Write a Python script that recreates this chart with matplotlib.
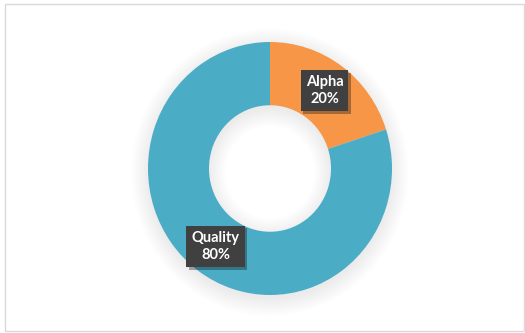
import numpy as np
import matplotlib.pyplot as plt
from matplotlib.patches import Rectangle, Wedge
import matplotlib.patheffects as pe

# data
labels = ["Alpha", "Quality"]
values = [20, 80]
colors = ["#F79646", "#4BACC6"]

W, H = 525, 333
fig = plt.figure(figsize=(W / 100, H / 100), dpi=100)
fig.patch.set_facecolor("white")

# outer chart frame
fig.patches.append(Rectangle((5 / W, 2 / H), 519 / W, 327 / H, transform=fig.transFigure,
                             fill=False, edgecolor="#D9D9D9", linewidth=1.0))

# the ring in the reference is slightly taller than wide
cx, cy, rx, ry, span = 270, 168.5, 122, 126.5, 1.35
ax = fig.add_axes([(cx - rx * span) / W, (H - cy - ry * span) / H,
                   2 * rx * span / W, 2 * ry * span / H])

# soft shadow behind the ring
for i in range(10):
    rr = 1.0 + 0.015 * i
    ax.add_patch(Wedge((0.0, -0.03), rr, 0, 360, width=0.5 + 0.03 * i,
                       facecolor="black", alpha=0.007, edgecolor="none", zorder=0))

wedges, _ = ax.pie(values, colors=colors, startangle=90, counterclock=False,
                   radius=1.0, wedgeprops=dict(width=0.5, edgecolor="none"))
for w in wedges:
    w.set_zorder(2)

ax.set_xlim(-span, span)
ax.set_ylim(-span, span)
ax.set_aspect("auto")
ax.axis("off")

total = sum(values)
for w, lab, v in zip(wedges, labels, values):
    ang = np.deg2rad((w.theta1 + w.theta2) / 2)
    x, y = 0.76 * np.cos(ang), 0.76 * np.sin(ang)
    ax.text(x, y, f"{lab}\n{v / total:.0%}", ha="center", va="center",
            fontsize=10.5, fontweight="bold", color="white", family="Lato",
            linespacing=1.3, zorder=5,
            bbox=dict(boxstyle="square,pad=0.35", facecolor="#404040", edgecolor="none",
                      path_effects=[pe.SimplePatchShadow(offset=(2, -2), alpha=0.35), pe.Normal()]))

fig.savefig("out.png", dpi=100)
